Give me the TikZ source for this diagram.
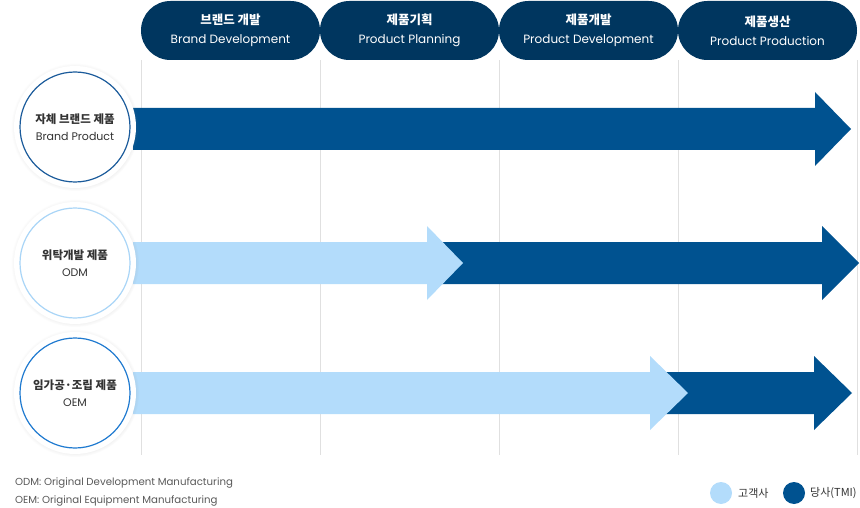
\documentclass[tikz,border=0pt]{standalone}
\usepackage{fontspec}
\setmainfont{Poppins}
\newfontfamily\kr{Noto Sans CJK KR}
\usetikzlibrary{shapes.misc,shadows}

\definecolor{navy}{HTML}{00365F}
\definecolor{tmiblue}{HTML}{005290}
\definecolor{clientblue}{HTML}{B3DCFB}
\definecolor{ringdark}{HTML}{1B5B9B}
\definecolor{ringlight}{HTML}{A9D5F7}
\definecolor{ringmid}{HTML}{1F7AD0}
\definecolor{textgray}{HTML}{333333}

\tikzset{
  stagepill/.style={rounded rectangle, fill=navy, text=white, minimum width=179pt,
    minimum height=59pt, inner sep=0pt, align=center, font=\fontsize{12}{19}\selectfont},
  halo/.style={circle, fill=white, minimum size=122pt, inner sep=0pt,
    circular drop shadow={shadow xshift=0pt, shadow yshift=0pt, opacity=.25, shadow scale=1.05}},
  ring/.style={circle, draw=#1, line width=1.2pt, fill=white, minimum size=110pt, inner sep=0pt,
    align=center, text=textgray, font=\fontsize{11}{17}\selectfont},
  gridline/.style={draw=black!12, line width=0.6pt},
  legenddot/.style={circle, fill=#1, minimum size=22pt, inner sep=0pt},
  legendtext/.style={anchor=west, text=textgray, inner sep=0pt, font=\kr\fontsize{11}{13}\selectfont}
}

\begin{document}
\begin{tikzpicture}[x=1pt, y=-1pt]
    \useasboundingbox (0,0) rectangle (860,508);
    % Stage grid lines
    \foreach \gx in {141,320,499,678,857}
        \draw[gridline] (\gx,60) -- (\gx,455);
    % Stage headers
    \node[stagepill] (brand) at (230.5,30.5) {{\kr\bfseries\fontsize{12.5}{19}\selectfont 브랜드 개발}\\Brand Development};
    \node[stagepill] (plan) at (409.5,30.5) {{\kr\bfseries\fontsize{12.5}{19}\selectfont 제품기획}\\Product Planning};
    \node[stagepill] (dev) at (588.5,30.5) {{\kr\bfseries\fontsize{12.5}{19}\selectfont 제품개발}\\Product Development};
    \node[stagepill] (prod) at (767.5,30.5) {{\kr\bfseries\fontsize{12.5}{19}\selectfont 제품생산}\\Product Production};
    % Brand product: TMI all the way
    \fill[tmiblue] (133,108) -- (815,108) -- (815,92) -- (851,129) -- (815,166) -- (815,150) -- (133,150) -- cycle;
    % ODM: client up to planning, then TMI
    \fill[tmiblue] (440,242) -- (822,242) -- (822,226) -- (859,263) -- (822,300) -- (822,284) -- (440,284) -- cycle;
    \fill[clientblue] (133,242) -- (427,242) -- (427,226) -- (463,263) -- (427,300) -- (427,284) -- (133,284) -- cycle;
    % OEM: client up to development, then TMI
    \fill[tmiblue] (660,372) -- (814,372) -- (814,356) -- (852,393) -- (814,430) -- (814,414) -- (660,414) -- cycle;
    \fill[clientblue] (133,372) -- (650,372) -- (650,356) -- (688,393) -- (650,430) -- (650,414) -- (133,414) -- cycle;
    % Product type circles
    \node[halo] (own halo) at (75,127) {};
    \node[ring=ringdark] (own) at (75,127) {{\kr\bfseries\fontsize{11.5}{17}\selectfont 자체 브랜드 제품}\\Brand Product};
    \node[halo] (odm halo) at (75,263) {};
    \node[ring=ringlight] (odm) at (75,263) {{\kr\bfseries\fontsize{11.5}{17}\selectfont 위탁개발 제품}\\ODM};
    \node[halo] (oem halo) at (75,393) {};
    \node[ring=ringmid] (oem) at (75,393) {{\kr\bfseries\fontsize{11.5}{17}\selectfont 임가공·조립 제품}\\OEM};
    % Footnotes
    \node[anchor=west, inner sep=0pt, text=black!65, font=\fontsize{10.2}{12}\selectfont] (note odm) at (15,483) {ODM: Original Development Manufacturing};
    \node[anchor=west, inner sep=0pt, text=black!65, font=\fontsize{10.2}{12}\selectfont] (note oem) at (15,501) {OEM: Original Equipment Manufacturing};
    % Legend
    \node[legenddot=clientblue] (client dot) at (721,493) {};
    \node[legendtext] (client) at (738,493) {고객사};
    \node[legenddot=tmiblue] (tmi dot) at (794,493) {};
    \node[legendtext] (tmi) at (810,493) {당사(TMI)};
\end{tikzpicture}
\end{document}
